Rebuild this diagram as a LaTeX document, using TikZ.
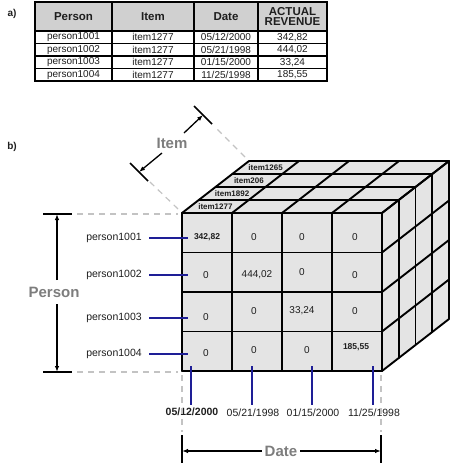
\documentclass[tikz,border=0pt]{standalone}
\usepackage{fontspec}
\setmainfont{Liberation Sans}
\usetikzlibrary{arrows.meta}
\definecolor{cubefill}{RGB}{228,228,228}
\definecolor{hdrfill}{RGB}{208,208,208}
\definecolor{navy}{RGB}{30,30,150}
\definecolor{dimgray}{RGB}{125,125,125}
\definecolor{dashgray}{RGB}{195,195,195}
\definecolor{txt}{RGB}{30,30,30}
\begin{document}
\begin{tikzpicture}[x=1pt,y=-1pt,
  edge/.style={line width=1.9pt, line cap=round, line join=round},
  tline/.style={line width=1.3pt},
  tbold/.style={line width=1.8pt},
  hdr/.style={font=\fontsize{11.5}{12}\selectfont\bfseries, text=txt, inner sep=0pt},
  cell/.style={font=\fontsize{10}{11}\selectfont, text=txt, inner sep=0pt},
  val/.style={font=\fontsize{10}{11}\selectfont, text=txt, inner sep=0pt},
  valb/.style={font=\fontsize{8.5}{9}\selectfont\bfseries, text=txt, inner sep=0pt},
  itemlbl/.style={font=\fontsize{8}{9}\selectfont\bfseries, text=txt, inner sep=0pt},
  axlbl/.style={font=\fontsize{10.5}{12}\selectfont, text=txt, inner sep=0pt},
  dimlbl/.style={font=\fontsize{15}{16}\selectfont\bfseries, text=dimgray, inner sep=3pt},
  partlbl/.style={font=\fontsize{10}{11}\selectfont\bfseries, text=txt, inner sep=0pt},
  blueline/.style={draw=navy, line width=1.5pt},
  dashline/.style={draw=dashgray, line width=1.2pt, dash pattern=on 6pt off 5pt},
  ticks/.style={draw=black, line width=1.6pt},
  dimarrow/.style={draw=black, line width=1.3pt, -{Latex[length=6pt,width=4.5pt]}}]
\useasboundingbox (0,0) rectangle (450,466);

% ---------------- part a: table ----------------
\node[partlbl] (la) at (12,14) {a)};
\fill[hdrfill] (35,2) rectangle (327,31);
\fill[white] (35,31) rectangle (327,81);
\foreach \yy in {43.5,56,68.5} \draw[tline] (35,\yy) -- (327,\yy);
\draw[tline] (35,31) -- (327,31);
\foreach \xx in {112,194,258} \draw[tline] (\xx,2) -- (\xx,81);
\draw[tbold] (35,2) rectangle (327,81);
\node[hdr] (h1) at (73.5,16.5) {Person};
\node[hdr] (h2) at (153,16.5) {Item};
\node[hdr] (h3) at (226,16.5) {Date};
\node[hdr, align=center] (h4) at (292.5,16.5) {ACTUAL\\[-1.5pt]REVENUE};
\node[cell] (tp1) at (73.5,37.2) {person1001};
\node[cell] (tp2) at (73.5,49.7) {person1002};
\node[cell] (tp3) at (73.5,62.2) {person1003};
\node[cell] (tp4) at (73.5,74.7) {person1004};
\node[cell] (ti1) at (153,37.2) {item1277};
\node[cell] (ti2) at (153,49.7) {item1277};
\node[cell] (ti3) at (153,62.2) {item1277};
\node[cell] (ti4) at (153,74.7) {item1277};
\node[cell] (td1) at (226,37.2) {05/12/2000};
\node[cell] (td2) at (226,49.7) {05/21/1998};
\node[cell] (td3) at (226,62.2) {01/15/2000};
\node[cell] (td4) at (226,74.7) {11/25/1998};
\node[cell] (tv1) at (292.5,37.2) {342,82};
\node[cell] (tv2) at (292.5,49.7) {444,02};
\node[cell] (tv3) at (292.5,62.2) {33,24};
\node[cell] (tv4) at (292.5,74.7) {185,55};

% ---------------- part b: cube ----------------
\node[partlbl] (lb) at (12,147) {b)};
\fill[cubefill] (182,213) rectangle (382,371);
\fill[cubefill] (182,213) -- (382,213) -- (449,161) -- (249,161) -- cycle;
\fill[cubefill] (382,213) -- (449,161) -- (449,319) -- (382,371) -- cycle;
% top face
\foreach \k in {0,...,4}
  \draw[edge] ({182+16.75*\k},{213-13*\k}) -- ({382+16.75*\k},{213-13*\k});
\foreach \i in {0,...,4}
  \draw[edge] ({182+50*\i},213) -- ({249+50*\i},161);
% right face
\foreach \k in {0,...,4}
  \draw[edge] ({382+16.75*\k},{213-13*\k}) -- ({382+16.75*\k},{371-13*\k});
\foreach \j in {0,...,4}
  \draw[edge] (382,{213+39.5*\j}) -- (449,{161+39.5*\j});
% front face
\foreach \i in {0,...,4}
  \draw[edge] ({182+50*\i},213) -- ({182+50*\i},371);
\foreach \j in {0,...,4}
  \draw[edge] (182,{213+39.5*\j}) -- (382,{213+39.5*\j});

% item labels on top
\node[itemlbl] (it1) at (215.4,206.5) {item1277};
\node[itemlbl] (it2) at (232.1,193.5) {item1892};
\node[itemlbl] (it3) at (248.9,180.5) {item206};
\node[itemlbl] (it4) at (265.6,167.5) {item1265};

% cell values
\node[valb] (v11) at (207,237) {342,82};
\node[val] (v12) at (254,237) {0};
\node[val] (v13) at (302,237) {0};
\node[val] (v14) at (355,237) {0};
\node[val] (v21) at (206,275) {0};
\node[val] (v22) at (257,275) {444,02};
\node[val] (v23) at (302,272) {0};
\node[val] (v24) at (355,275) {0};
\node[val] (v31) at (206,317) {0};
\node[val] (v32) at (254,311) {0};
\node[val] (v33) at (302,311) {33,24};
\node[val] (v34) at (355,311) {0};
\node[val] (v41) at (206,353) {0};
\node[val] (v42) at (254,350) {0};
\node[val] (v43) at (307,350) {0};
\node[valb] (v44) at (356,347) {185,55};

% person labels with blue connectors
\foreach \n/\yy in {1/238,2/275,3/318,4/354}{
  \node[axlbl] (pl\n) at (114,\yy) {person100\n};
  \coordinate (ps\n) at (149,\yy);
  \coordinate (pe\n) at (188,\yy);
  \draw[blueline] (ps\n) -- (pe\n);
}

% date labels with blue connectors
\node[axlbl, font=\fontsize{10.5}{12}\selectfont\bfseries] (dl1) at (192,412) {05/12/2000};
\node[axlbl] (dl2) at (253,413) {05/21/1998};
\node[axlbl] (dl3) at (313,413) {01/15/2000};
\node[axlbl] (dl4) at (374,413) {11/25/1998};
\foreach \n/\xx in {1/191,2/252,3/312,4/373}{
  \coordinate (ds\n) at (\xx,366);
  \coordinate (de\n) at (\xx,405);
  \draw[blueline] (ds\n) -- (de\n);
}

% ---- Person dimension ----
\draw[ticks] (43,214) -- (72,214);
\draw[ticks] (43,372) -- (72,372);
\draw[dashline] (77,214) -- (178,214);
\draw[dashline] (77,372) -- (178,372);
\node[dimlbl] (plbl) at (54,292) {Person};
\coordinate (pt) at (57,214);
\coordinate (pb) at (57,372);
\coordinate (pgu) at (57,280);
\coordinate (pgl) at (57,304);
\draw[dimarrow] (pgu) -- (pt);
\draw[dimarrow] (pgl) -- (pb);

% ---- Date dimension ----
\draw[dashline] (182,375) -- (182,432);
\draw[dashline] (381,375) -- (381,432);
\draw[ticks] (182,435) -- (182,463);
\draw[ticks] (381,435) -- (381,463);
\node[dimlbl] (dlbl) at (281,451) {Date};
\coordinate (dL) at (182,451);
\coordinate (dR) at (381,451);
\draw[dimarrow] (dlbl.west) -- (dL);
\draw[dimarrow] (dlbl.east) -- (dR);

% ---- Item dimension ----
\draw[dashline] (178,209) -- (150,182);
\draw[dashline] (245,157) -- (214,126);
\draw[ticks] (130,163) -- (148,181);
\draw[ticks] (194,106) -- (212,124);
\node[dimlbl] (ilbl) at (172,143) {Item};
\coordinate (itemLowTip) at (139,172);
\coordinate (itemUpTip) at (203,115);
\coordinate (itemLowStart) at (162,153);
\coordinate (itemUpStart) at (184,133);
\draw[dimarrow] (itemLowStart) -- (itemLowTip);
\draw[dimarrow] (itemUpStart) -- (itemUpTip);
\end{tikzpicture}
\end{document}
